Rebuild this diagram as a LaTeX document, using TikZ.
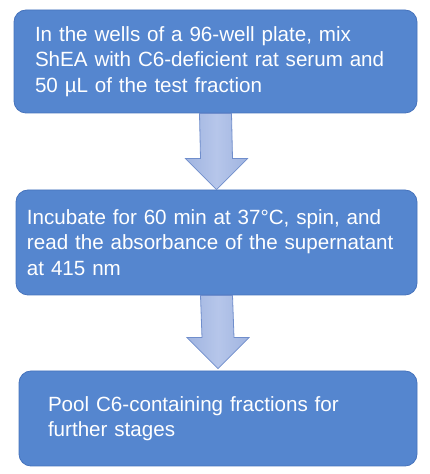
\documentclass[tikz,border=0pt]{standalone}
\usepackage{fontspec}
\setmainfont{Liberation Sans}
\usetikzlibrary{calc}
\definecolor{boxblue}{RGB}{85,134,207}
\definecolor{boxedge}{RGB}{70,115,188}
\definecolor{arrowside}{RGB}{160,180,224}
\definecolor{arrowmid}{RGB}{182,198,234}
\definecolor{arrowedge}{RGB}{112,142,204}
\begin{document}
\begin{tikzpicture}[
  x=1pt, y=1pt,
  stepbox/.style = {shape=rectangle, rounded corners=12pt, draw=boxedge, line width=0.8pt,
    fill=boxblue, text=white, align=left, font=\fontsize{20.6}{25.3}\selectfont,
    inner ysep=0pt, anchor=center},
  blockarrow/.style = {draw=arrowedge, line width=0.8pt, line join=miter,
    left color=arrowside, right color=arrowside, middle color=arrowmid}
]
  \useasboundingbox (0,0) rectangle (430,474);
  \node[stepbox, minimum width=403pt, minimum height=103pt,
        text width=361pt, inner xsep=21pt] (stepone) at (215.5,412.5)
        {In the wells of a 96-well plate, mix\\
         ShEA with C6-deficient rat serum and\\
         50 µL of the test fraction};
  \node[stepbox, minimum width=401pt, minimum height=105pt,
        text width=379pt, inner xsep=11pt] (steptwo) at (216.5,231.5)
        {Incubate for 60 min at 37\textdegree C, spin, and\\
         read the absorbance of the supernatant\\
         at 415 nm};
  \node[stepbox, minimum width=398pt, minimum height=95pt,
        text width=340pt, inner xsep=29pt] (stepthree) at (218,55.5)
        {Pool C6-containing fractions for\\
         further stages};
  % block arrows between the steps
  \foreach \a/\b/\gap in {stepone/steptwo/0, steptwo/stepthree/2} {
    \draw[blockarrow]
      ($(\a.south)+(-16,0)$) -- ($(\b.north)+(-16,31+\gap)$) --
      ($(\b.north)+(-31,31+\gap)$) -- ($(\b.north)+(0,\gap)$) --
      ($(\b.north)+(31,31+\gap)$) -- ($(\b.north)+(16,31+\gap)$) --
      ($(\a.south)+(16,0)$) -- cycle;
  }
\end{tikzpicture}
\end{document}
